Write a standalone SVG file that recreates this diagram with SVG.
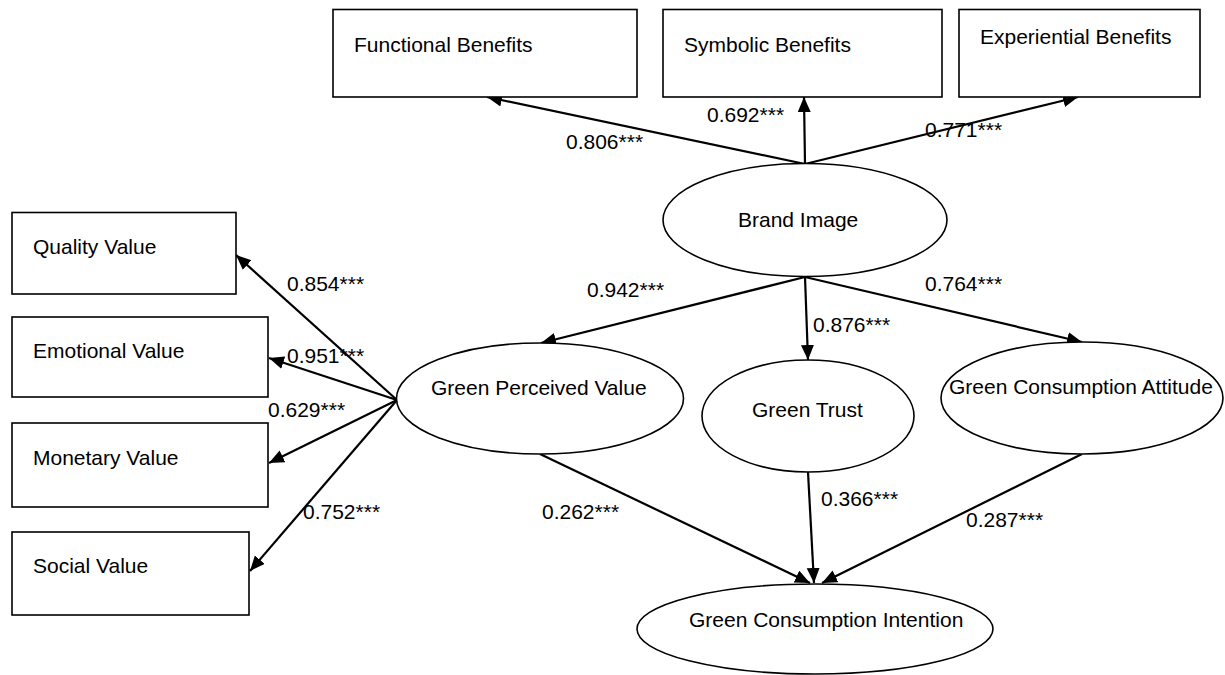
<svg xmlns="http://www.w3.org/2000/svg" width="1225" height="675" viewBox="0 0 1225 675">
<style>
.box{fill:#fff;stroke:#000;stroke-width:1.6}
.ell{fill:#fff;stroke:#000;stroke-width:1.6}
.t{font-family:"Liberation Sans",Arial,sans-serif;font-size:21px;fill:#000}
.c{stroke:#000;stroke-width:2.2;fill:none;marker-end:url(#ah)}
</style>
<defs>
<marker id="ah" markerUnits="userSpaceOnUse" markerWidth="17" markerHeight="14" refX="15" refY="6.5" orient="auto">
<path d="M0,0 L15,6.5 L0,13 z" fill="#000"/>
</marker>
</defs>
<rect width="1225" height="675" fill="#fff"/>
<g id="connectors">
<line class="c" x1="805" y1="164" x2="487" y2="97"/>
<line class="c" x1="805" y1="164" x2="804" y2="97"/>
<line class="c" x1="805" y1="164" x2="1078" y2="97"/>
<line class="c" x1="805" y1="277" x2="541" y2="343"/>
<line class="c" x1="805" y1="277" x2="808" y2="360"/>
<line class="c" x1="805" y1="277" x2="1082" y2="342"/>
<line class="c" x1="397" y1="400" x2="236" y2="255"/>
<line class="c" x1="397" y1="400" x2="269" y2="358"/>
<line class="c" x1="397" y1="400" x2="269" y2="463"/>
<line class="c" x1="397" y1="400" x2="250" y2="571"/>
<line class="c" x1="540" y1="454" x2="810" y2="583"/>
<line class="c" x1="808" y1="472" x2="814" y2="583"/>
<line class="c" x1="1082" y1="454" x2="822" y2="583"/>
<g id="labels">
<text class="t" x="566" y="149">0.806***</text>
<text class="t" x="707" y="122">0.692***</text>
<text class="t" x="925" y="137">0.771***</text>
<text class="t" x="587" y="297">0.942***</text>
<text class="t" x="813" y="332">0.876***</text>
<text class="t" x="925" y="291">0.764***</text>
<text class="t" x="287" y="291">0.854***</text>
<text class="t" x="287" y="363">0.951***</text>
<text class="t" x="268" y="417">0.629***</text>
<text class="t" x="303" y="519">0.752***</text>
<text class="t" x="542" y="519">0.262***</text>
<text class="t" x="821" y="506">0.366***</text>
<text class="t" x="966" y="527">0.287***</text>
</g>
</g>
<g id="functional-benefits"><rect class="box" x="333" y="9.5" width="304" height="87.5"/><text class="t" x="354" y="52">Functional Benefits</text></g>
<g id="symbolic-benefits"><rect class="box" x="663" y="9.5" width="279" height="87.5"/><text class="t" x="684" y="52">Symbolic Benefits</text></g>
<g id="experiential-benefits"><rect class="box" x="959" y="9.5" width="241" height="87.5"/><text class="t" x="980" y="44">Experiential Benefits</text></g>
<g id="brand-image"><ellipse class="ell" cx="805" cy="220" rx="142" ry="56.5"/><text class="t" x="738" y="227">Brand Image</text></g>
<g id="quality-value"><rect class="box" x="12" y="212.5" width="224" height="81.5"/><text class="t" x="33" y="254">Quality Value</text></g>
<g id="emotional-value"><rect class="box" x="12" y="317" width="256" height="80"/><text class="t" x="33" y="358">Emotional Value</text></g>
<g id="monetary-value"><rect class="box" x="12" y="423" width="256" height="84"/><text class="t" x="33" y="465">Monetary Value</text></g>
<g id="social-value"><rect class="box" x="12" y="532" width="237" height="83"/><text class="t" x="33" y="573">Social Value</text></g>
<g id="green-perceived-value"><ellipse class="ell" cx="540" cy="398.5" rx="143.5" ry="55.5"/><text class="t" x="431" y="395">Green Perceived Value</text></g>
<g id="green-trust"><ellipse class="ell" cx="808" cy="416" rx="106" ry="56"/><text class="t" x="752" y="417">Green Trust</text></g>
<g id="green-consumption-attitude"><ellipse class="ell" cx="1082" cy="398" rx="141" ry="56"/><text class="t" x="949" y="394">Green Consumption Attitude</text></g>
<g id="green-consumption-intention"><ellipse class="ell" cx="815" cy="629" rx="178" ry="45"/><text class="t" x="689" y="627">Green Consumption Intention</text></g>
</svg>
